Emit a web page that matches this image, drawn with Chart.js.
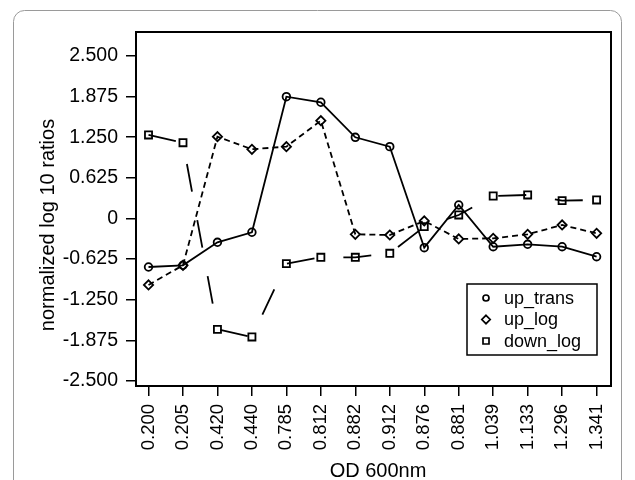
<!DOCTYPE html>
<html><head><meta charset="utf-8">
<script src="https://cdn.jsdelivr.net/npm/chart.js@4/dist/chart.umd.min.js"></script>
<style>html,body{margin:0;padding:0;background:#fff;} #wrap{width:635px;height:480px;position:relative;} canvas{display:block;}</style>
</head><body><div id="wrap"><canvas id="c" width="635" height="480"></canvas></div>
<script>
// ---- data ----
const odLabels = ['0.200','0.205','0.420','0.440','0.785','0.812','0.882','0.912','0.876','0.881','1.039','1.133','1.296','1.341'];
const upTrans = [-0.746, -0.720, -0.366, -0.212, 1.874, 1.788, 1.249, 1.105, -0.449, 0.208, -0.434, -0.397, -0.434, -0.588];
const upLog   = [-1.023, -0.720, 1.258, 1.065, 1.105, 1.505, -0.243, -0.254, -0.038, -0.315, -0.305, -0.243, -0.100, -0.228];
const downLog = [1.285, 1.166, -1.705, -1.823, -0.695, -0.597, -0.597, -0.535, -0.126, 0.054, 0.346, 0.362, 0.274, 0.285];
const seriesNames = ['up_trans', 'up_log', 'down_log'];
const yTicks = [-2.5, -1.875, -1.25, -0.625, 0, 0.625, 1.25, 1.875, 2.5];
const yTitle = 'normalized log 10 ratios';
const xTitle = 'OD 600nm';

const FONT = "'Liberation Sans', Arial, Helvetica, sans-serif";
const toPts = arr => arr.map((v, i) => ({x: i, y: v}));

const decor = {
  id: 'decor',
  beforeDraw(chart) {
    const ctx = chart.ctx;
    ctx.save();
    ctx.strokeStyle = '#9a9a9a';
    ctx.lineWidth = 1;
    const x = 13.5, y = 10.5, w = 608, h = 500, r = 11;
    ctx.beginPath();
    ctx.moveTo(x + r, y);
    ctx.lineTo(x + w - r, y);
    ctx.arcTo(x + w, y, x + w, y + r, r);
    ctx.lineTo(x + w, y + h);
    ctx.moveTo(x, y + h);
    ctx.lineTo(x, y + r);
    ctx.arcTo(x, y, x + r, y, r);
    ctx.stroke();
    ctx.restore();
  },
  afterDraw(chart) {
    const ctx = chart.ctx, ca = chart.chartArea;
    ctx.save();
    // frame
    ctx.strokeStyle = '#000';
    ctx.lineWidth = 2;
    ctx.strokeRect(ca.left, ca.top, ca.right - ca.left, ca.bottom - ca.top);
    // legend
    const lx = ca.right - 144, ly = ca.bottom - 102, lw = 130, lh = 71;
    ctx.fillStyle = '#fff';
    ctx.fillRect(lx, ly, lw, lh);
    ctx.lineWidth = 1.5;
    ctx.strokeRect(lx, ly, lw, lh);
    ctx.font = '18px ' + FONT;
    ctx.fillStyle = '#000';
    ctx.textBaseline = 'middle';
    ctx.textAlign = 'left';
    const rows = [14, 35.5, 57];
    chart.data.datasets.forEach((ds, i) => {
      const mx = lx + 19, my = ly + rows[i];
      ctx.beginPath();
      ctx.lineWidth = 1.7;
      if (i === 0) ctx.arc(mx, my, 3, 0, Math.PI * 2);
      else if (i === 1) { ctx.moveTo(mx, my - 4.2); ctx.lineTo(mx + 4.2, my); ctx.lineTo(mx, my + 4.2); ctx.lineTo(mx - 4.2, my); ctx.closePath(); }
      else ctx.rect(mx - 3, my - 3, 6, 6);
      ctx.stroke();
      ctx.fillText(ds.label, lx + 37, my + 1);
    });
    // axis titles
    ctx.font = '20px ' + FONT;
    ctx.textAlign = 'center';
    ctx.textBaseline = 'alphabetic';
    ctx.fillText(xTitle, 378, 476.5);
    ctx.translate(54, 225);
    ctx.rotate(-Math.PI / 2);
    ctx.fillText(yTitle, 0, 0);
    ctx.restore();
  }
};

const common = {borderColor: '#000', pointBorderColor: '#000', pointBackgroundColor: 'rgba(0,0,0,0)', borderWidth: 1.8, pointBorderWidth: 1.8, fill: false, tension: 0};

new Chart(document.getElementById('c'), {
  type: 'line',
  data: {
    datasets: [
      Object.assign({label: seriesNames[0], data: toPts(upTrans), pointStyle: 'circle', pointRadius: 3.8}, common),
      Object.assign({label: seriesNames[1], data: toPts(upLog), pointStyle: 'rectRot', pointRadius: 4.6, borderDash: [6, 4]}, common),
      Object.assign({label: seriesNames[2], data: toPts(downLog), pointStyle: 'rect', pointRadius: 5, borderDash: [28, 29]}, common)
    ]
  },
  options: {
    responsive: false,
    animation: false,
    devicePixelRatio: 1,
    layout: {padding: {top: 32, right: 24, left: 0, bottom: 0}},
    plugins: {legend: {display: false}, tooltip: {enabled: false}},
    elements: {point: {hoverRadius: 0}},
    scales: {
      x: {
        type: 'linear',
        min: -0.363, max: 13.418,
        afterFit: s => { s.height = 94; },
        afterBuildTicks: s => { s.ticks = odLabels.map((_, i) => ({value: i})); },
        grid: {drawOnChartArea: false, drawTicks: true, tickLength: 10, color: '#000', lineWidth: 1.5},
        border: {display: true, color: '#000', width: 2},
        ticks: {
          autoSkip: false, maxRotation: 90, minRotation: 90, padding: 8,
          color: '#000', font: {family: FONT, size: 18.5},
          callback: v => odLabels[v]
        }
      },
      y: {
        type: 'linear',
        min: -2.577, max: 2.869,
        afterFit: s => { s.width = 136; },
        afterBuildTicks: s => { s.ticks = yTicks.map(v => ({value: v})); },
        grid: {drawOnChartArea: false, drawTicks: true, tickLength: 10, color: '#000', lineWidth: 1.5},
        border: {display: true, color: '#000', width: 2},
        ticks: {
          padding: 8, color: '#000', font: {family: FONT, size: 19.5},
          callback: v => Math.abs(v) < 1e-9 ? '0' : v.toFixed(3)
        }
      }
    }
  },
  plugins: [decor]
});
</script></body></html>
